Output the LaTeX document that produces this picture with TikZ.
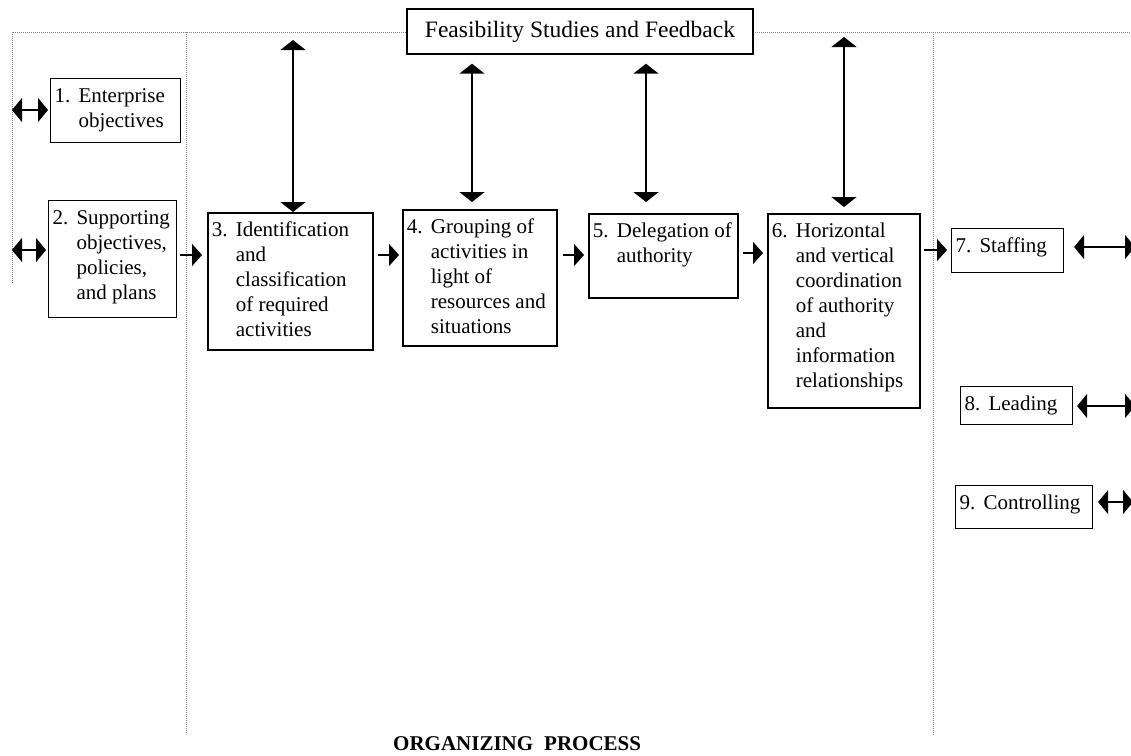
\documentclass[tikz,border=0pt]{standalone}
\usepackage{fontspec}
\setmainfont{Liberation Serif}
\usetikzlibrary{arrows.meta}

% numbered entry with hanging indent inside a box of fixed size
\newcommand{\stepitem}[4]{\parbox[t][#2][t]{#1}{\rule{0pt}{24pt}\hspace*{4pt}\begin{tabular}[t]{@{}p{24pt}@{}l@{}}#3 & #4\end{tabular}}}

\begin{document}
\begin{tikzpicture}[x=1pt,y=-1pt,
  txt/.style={font=\fontsize{21}{25}\selectfont},
  stepbox/.style={draw, fill=white, anchor=north west, inner sep=0pt, line width=1.8pt, txt},
  sidebox/.style={stepbox, line width=1.1pt},
  guide/.style={draw=gray, line width=0.8pt, dash pattern=on 1pt off 1pt},
  link/.style={line width=1.6pt, -{Triangle[length=10pt,width=22pt]}},
  both/.style={line width=1.6pt, {Triangle[length=10pt,width=24pt]}-{Triangle[length=10pt,width=24pt]}},
  feed/.style={line width=2pt, {Triangle[length=10pt,width=25pt]}-{Triangle[length=10pt,width=25pt]}},
]
\useasboundingbox (0,0) rectangle (1131,755);
\clip (0,0) rectangle (1131,755);

% dotted frame of the process areas
\draw[guide] (12,283) -- (12,32) -- (1131,32);
\draw[guide] (186,32) -- (186,734);
\draw[guide] (933,32) -- (933,735);

% feedback box
\node[draw, fill=white, line width=1.4pt, minimum width=346pt, minimum height=45pt, inner sep=0pt,
      font=\fontsize{23.5}{27}\selectfont] (feas) at (580,31.5) {Feasibility Studies and Feedback};

% boxes
\node[sidebox] (b1) at (50,78)  {\stepitem{130pt}{64pt}{1.}{Enterprise\\ & objectives}};
\node[sidebox] (b2) at (48,200) {\stepitem{128pt}{117pt}{2.}{Supporting\\ & objectives,\\ & policies,\\ & and plans}};
\node[stepbox] (b3) at (207,212) {\stepitem{165pt}{137pt}{3.}{Identification\\ & and\\ & classification\\ & of required\\ & activities}};
\node[stepbox] (b4) at (402,209) {\stepitem{154pt}{136pt}{4.}{Grouping of\\ & activities in\\ & light of\\ & resources and\\ & situations}};
\node[stepbox] (b5) at (588,213) {\stepitem{149pt}{84pt}{5.}{Delegation of\\ & authority}};
\node[stepbox] (b6) at (767,213) {\stepitem{152pt}{194pt}{6.}{Horizontal\\ & and vertical\\ & coordination\\ & of authority\\ & and\\ & information\\ & relationships}};
\node[sidebox] (b7) at (951,228) {\stepitem{112pt}{44pt}{7.}{Staffing}};
\node[sidebox] (b8) at (960,386) {\stepitem{112pt}{38pt}{8.}{Leading}};
\node[sidebox] (b9) at (955,485) {\stepitem{137pt}{43pt}{9.}{Controlling}};

% free ends
\coordinate (t3) at (293,40);
\coordinate (t6) at (844,37);
\coordinate (l1) at (12,110);
\coordinate (l2) at (12,250);
\coordinate (e7) at (1135,247);
\coordinate (e8) at (1135,406);
\coordinate (e9) at (1133,502);
\coordinate (r1) at (0,255);
\coordinate (r2) at (0,253);
\coordinate (r3) at (0,250);
\coordinate (f4) at (472,0);
\coordinate (f5) at (646,0);

% feedback links
\draw[feed] (t3) -- (t3 |- b3.north);
\draw[feed, shorten <=9pt, shorten >=7pt] (feas.south -| f4) -- (b4.north -| f4);
\draw[feed, shorten <=9pt, shorten >=11pt] (feas.south -| f5) -- (b5.north -| f5);
\draw[feed, shorten >=6pt] (t6) -- (t6 |- b6.north);

% main flow
\draw[link, shorten <=3pt, shorten >=5pt] (b2.east |- r1) -- (b3.west |- r1);
\draw[link, shorten <=4pt, shorten >=3pt] (b3.east |- r1) -- (b4.west |- r1);
\draw[link, shorten <=5pt, shorten >=4pt] (b4.east |- r1) -- (b5.west |- r1);
\draw[link, shorten <=4pt, shorten >=4pt] (b5.east |- r2) -- (b6.west |- r2);
\draw[link, shorten <=3pt, shorten >=4pt] (b6.east |- r3) -- (b7.west |- r3);

% side links
\draw[both, shorten >=2pt] (l1) -- (l1 -| b1.west);
\draw[both, shorten >=2pt] (l2) -- (l2 -| b2.west);
\draw[both, shorten <=10pt] (b7.east |- e7) -- (e7);
\draw[both, shorten <=4pt] (b8.east |- e8) -- (e8);
\draw[both, shorten <=5pt] (b9.east |- e9) -- (e9);

% caption
\node[anchor=base west, inner sep=0pt, font=\bfseries\fontsize{21}{25}\selectfont] (cap) at (393,750) {ORGANIZING\hspace{11pt}PROCESS};
\end{tikzpicture}
\end{document}
